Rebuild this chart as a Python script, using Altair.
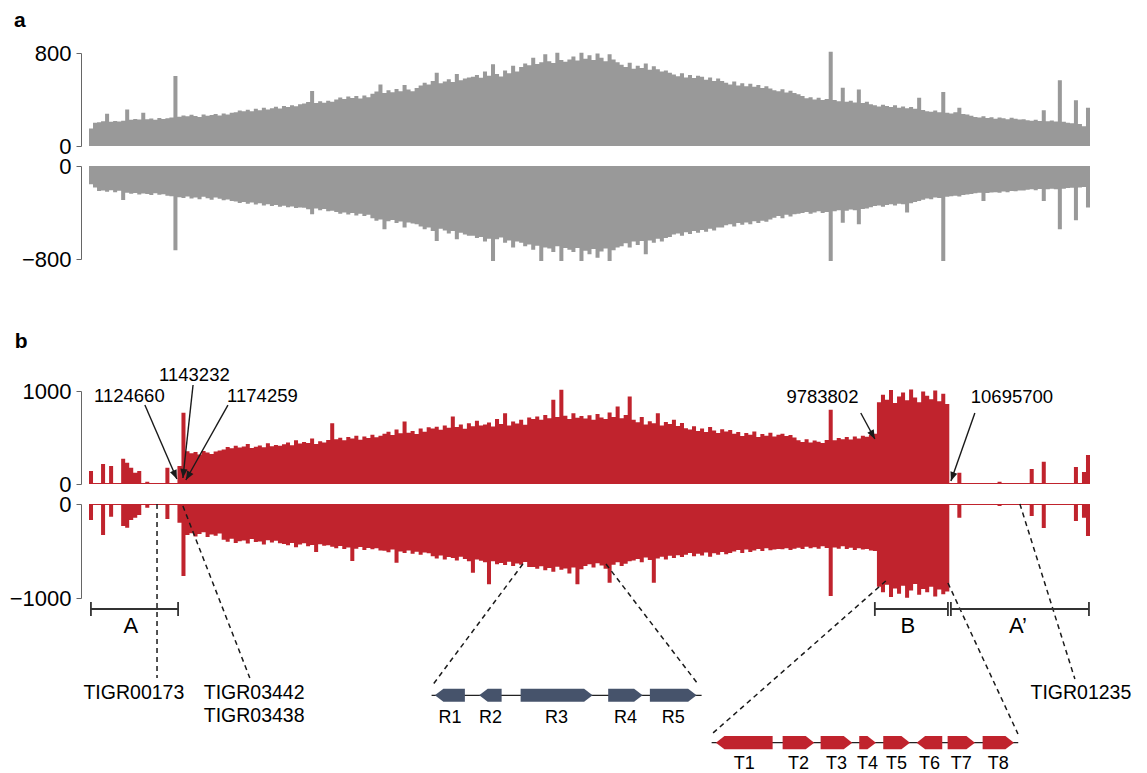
import math
import altair as alt
import pandas as pd

# ---------------- data ----------------
GENOME_MB = 12.45          # genome length shown on the x axis (Mb)
BIN_MB = 0.05              # coverage bin width (Mb)

# panel a: coverage, forward (+) and reverse (-) strand, one value per 50 kb bin
A_POS = [150, 200,
         205, 212, 278, 208, 215, 210, 218,
         315,
         225, 232, 228, 287, 230, 236, 226, 240, 232, 238, 245,
         602,
         252, 262, 255, 268, 258, 250, 272, 260, 266, 275, 262, 280, 270, 285,
         290, 305, 298, 312, 300, 320, 308, 330, 315, 325, 338, 322, 345, 335, 350, 342, 360,
         365, 378, 473, 370, 385, 372, 390, 380,
         400, 418, 405, 425, 412, 430, 408, 435, 420,
         450, 468, 530, 455, 480, 462, 490, 472, 525, 485, 470, 500,
         520, 545, 530, 560, 631, 540, 555, 575, 550, 620, 565, 580, 590,
         595, 610, 588, 640, 605, 703, 620, 598, 650, 625, 690, 640,
         680, 710, 695, 760, 705, 720, 790, 730, 715, 803, 740, 725,
         745, 770, 735, 803, 750, 780, 740, 795, 760, 730, 790, 745, 720,
         700, 680, 717, 665, 690, 670, 710, 655, 685, 660, 640, 650,
         630, 615, 600, 625, 590, 610, 585, 605, 595, 570, 590, 560, 580,
         560, 545, 530, 555, 520, 540, 515, 535, 510, 525, 500, 515,
         495, 480, 470, 488, 460, 475, 455, 445,
         430, 410, 420, 400, 415, 395, 405,
         811,
         395, 385, 502, 380, 390, 375, 487, 370, 380,
         360, 350, 340, 355, 345, 335, 350, 330, 340, 325, 335, 320,
         416, 310, 300, 295, 305, 290, 464, 285, 280, 290, 330, 275, 270,
         260, 250, 245, 255, 240, 248, 235, 245, 238, 230, 242, 235, 228,
         230, 222, 218, 225, 215, 307, 212, 220, 210, 565, 208,
         200, 195, 393, 190, 170, 330]

A_NEG = [-158, -186,
         -215, -210, -222, -208, -225, -212, -292,
         -230,
         -238, -232, -245, -236, -240, -250, -235, -248, -242, -255, -260,
         -725,
         -268, -275, -262, -280, -270, -285, -265, -278, -290, -272, -282, -295, -288, -300,
         -305, -318, -310, -325, -315, -332, -320, -340, -328, -345, -335, -350, -342, -355, -348, -362, -358,
         -360, -372, -416, -365, -380, -370, -390, -385,
         -395, -410, -400, -418, -405, -425, -410, -430, -420,
         -450, -470, -460, -545, -475, -465, -490, -478, -530, -485, -495, -500,
         -520, -545, -530, -560, -645, -540, -555, -580, -560, -630, -575, -590, -600,
         -600, -620, -610, -650, -625, -817, -630, -615, -660, -640, -700, -650,
         -660, -690, -675, -720, -685, -817, -700, -710, -740, -690, -817, -705,
         -720, -740, -705, -817, -730, -760, -715, -790, -735, -710, -817, -725, -700,
         -690, -665, -700, -650, -680, -645, -760, -640, -660, -625, -650, -620,
         -610, -590, -580, -600, -570, -585, -560, -575, -550, -565, -540, -555, -530,
         -530, -510, -500, -520, -490, -505, -485, -500, -475, -490, -470, -480,
         -460, -445, -430, -450, -420, -435, -415, -410,
         -405, -395, -410, -400, -390, -405, -395,
         -817,
         -390, -380, -488, -385, -375, -380, -502, -370, -365,
         -355, -345, -340, -350, -335, -330, -340, -325, -330, -401, -320, -310,
         -300, -290, -280, -285, -270, -275, -817, -265, -260, -255, -262, -250, -245,
         -240, -235, -230, -301, -232, -228, -225, -230, -220, -225, -215, -218, -210,
         -210, -205, -200, -208, -198, -301, -200, -195, -200, -545, -195,
         -190, -188, -467, -185, -180, -358]

# panel b: coverage, forward (+) and reverse (-) strand
B_POS = [140, 10, 10, 215, 10, 194, 10, 10, 272, 229, 175, 122, 140, 10, 25, 10, 10, 10, 10, 175, 10, 10,
         194, 767,
         352, 330, 345, 318, 356, 340, 322, 349, 360,
         372, 398, 385, 410, 392, 404, 430, 388, 401, 415, 396, 439, 405, 420, 412,
         428, 445, 418, 470, 436, 452, 441, 488, 430, 459, 447, 472,
         654, 480, 498, 471, 505, 489, 520, 476, 512, 495, 530, 503, 518,
         540, 562, 528, 585, 546, 672, 552, 570, 538, 596, 561, 610,
         598, 615, 582, 630, 605, 726, 612, 640, 595, 652, 620, 680, 628,
         640, 662, 618, 700, 645, 761, 630, 672, 650, 690, 638, 715,
         700, 725, 690, 742, 708, 905, 720, 1013, 735, 698, 760, 712, 730,
         705, 740, 690, 752, 715, 698, 770, 720, 833, 706, 742, 941,
         690, 665, 720, 640, 675, 652, 761, 630, 668, 645, 690, 625, 655,
         600, 585, 620, 570, 598, 560, 612, 575, 548, 590, 565, 580,
         540, 560, 515, 548, 530, 565, 505, 538, 520, 552, 512, 530,
         540, 515, 528, 500,
         470, 452, 480, 445, 468, 455, 440, 472,
         798,
         470, 495, 482, 505, 478, 512, 490, 520, 508, 530,
         540,
         880, 960, 905, 1010, 870, 940, 985, 900, 1016, 930, 880, 995, 950, 910, 1005, 890, 970, 860,
         12, 12, 122, 12, 12, 12, 12, 12, 12, 12, 12, 12, 25, 12, 12, 12, 12, 12, 12, 12,
         161, 12, 12, 240, 12, 12, 12, 12, 12, 12, 12, 183, 12, 129, 312]

B_NEG = [-170, -10, -10, -330, -10, -135, -10, -10, -234, -252, -170, -145, -117, -10, -39, -10, -10, -10, -10, -160, -10, -10,
         -199, -766,
         -330, -310, -345, -318, -300, -352, -325, -338, -315,
         -380, -402, -370, -415, -395, -388, -420, -372, -405, -398, -430, -385, -410, -392, -418,
         -425, -440, -415, -460, -432, -418, -450, -436, -510, -428, -445, -438,
         -455, -470, -448, -480, -462, -606, -475, -458, -490, -468, -482, -470, -495,
         -498, -512, -485, -624, -505, -520, -495, -530, -508, -540, -515, -525,
         -555, -580, -548, -590, -565, -575, -600, -560, -585, -610, -731, -590, -605,
         -620, -855, -610, -640, -628, -650, -615, -660, -632, -645, -618, -670,
         -670, -690, -662, -705, -680, -720, -668, -700, -685, -740, -675, -855, -695,
         -660, -640, -675, -630, -655, -690, -837, -645, -620, -660, -635, -610,
         -600, -585, -620, -570, -595, -837, -580, -560, -590, -550, -575, -545, -565,
         -540, -520, -555, -530, -548, -515, -560, -525, -540, -510, -535, -520,
         -505, -490, -520, -485, -510, -495, -480, -500, -470, -492, -485, -478,
         -482, -470, -490, -475,
         -465, -480, -455, -470, -460, -475, -450, -468,
         -979,
         -462, -475, -450, -480, -465, -490, -470, -485, -478, -495,
         -500,
         -880, -940, -860, -990, -900, -955, -870, -997, -920, -850, -965, -905, -940, -880, -985, -910, -960, -930,
         -10, -10, -147, -10, -10, -10, -10, -10, -10, -10, -10, -10, -20, -10, -10, -10, -10, -10, -10, -10,
         -128, -10, -10, -255, -10, -10, -10, -10, -10, -10, -10, -181, -10, -147, -340]

# genomic positions marked with arrows (label, label position, arrow start, arrow tip)
POS_LABELS = ["1124660", "1143232", "1174259", "9783802", "10695700"]
POS_LABEL_X = [0.502, 1.311, 2.157, 9.122, 11.479]
POS_LABEL_Y = [946, 1172, 946, 935, 935]
ARROW_X1 = [0.695, 1.294, 1.728, 9.599, 11.018]
ARROW_Y1 = [849, 1065, 849, 763, 763]
ARROW_X2 = [1.093, 1.168, 1.205, 9.774, 10.720]
ARROW_Y2 = [54, 65, 43, 484, 32]

# genome segments A, B, A'
SEG_NAMES = ["A", "B", "A\u2019"]
SEG_START = [0.024, 9.774, 10.720]
SEG_END = [1.108, 10.683, 12.437]
SEG_LABEL_X = [0.521, 10.184, 11.554]

# dashed leader lines
DASH_X1 = [0.846, 1.168, 5.396, 6.430, 9.910, 10.683, 11.578]
DASH_Y1 = [0, -21, -638, -638, -819, -840, 0]
DASH_X2 = [0.846, 2.000, 4.265, 7.573, 7.747, 11.554, 12.262]
DASH_Y2 = [-1851, -1851, -1936, -1915, -2447, -2447, -1862]

# TIGRFAM labels
TIGR_TEXT = ["TIGR00173", "TIGR03442", "TIGR03438", "TIGR01235"]
TIGR_X = [0.558, 2.054, 2.054, 12.337]
TIGR_Y = [-2011, -2011, -2255, -2011]

# gene clusters (local kb coordinates, strand)
R_NAMES = ["R1", "R2", "R3", "R4", "R5"]
R_START = [0.33, 4.76, 8.90, 17.66, 21.83]
R_END = [3.33, 7.00, 16.10, 21.10, 26.50]
R_STRAND = [-1, -1, 1, 1, 1]
R_LEN = 27.0

T_NAMES = ["T1", "T2", "T3", "T4", "T5", "T6", "T7", "T8"]
T_START = [0.43, 7.10, 10.90, 14.76, 17.16, 20.50, 23.60, 27.10]
T_END = [6.10, 10.26, 14.06, 16.43, 19.83, 23.06, 26.33, 30.23]
T_STRAND = [-1, 1, 1, 1, 1, -1, 1, 1]
T_LEN = 30.66

# ---------------- layout / style ----------------
GREY = "#999999"
RED = "#c0232d"
SLATE = "#46536b"
INK = "#1a1a1a"
FONT = "Liberation Sans"

W = 1001
H_A = 93
H_BP = 93
H_BN = 94
GAP = 20
H_SPACER = 92
PX_PER_MB = W / GENOME_MB

SEG_Y = -1117
SEG_TICK = 74
SEG_LABEL_Y = -1298
R_ANCHOR = 4.261
T_ANCHOR = 7.744
MB_PER_KB = 0.12438
HEAD_KB = 0.85
GENE_HALF = 70
R_Y = -2035
T_Y = -2539
R_LABEL_Y = -2277
T_LABEL_Y = -2769
HEAD_SHAPE = "M0,0L0.8,2L-0.8,2Z"

XS = alt.Scale(domain=[0, GENOME_MB], nice=False, zero=False)


def xq(f):
    return alt.X(f"{f}:Q", scale=XS, axis=None)


def make_axis(vals):
    return alt.Axis(values=vals, title=None, grid=False, offset=8, tickSize=5,
                    labelPadding=5, labelFontSize=22, labelFont=FONT,
                    labelColor="#000000", domainColor="#666666", tickColor="#666666",
                    domainWidth=1, tickWidth=1, format="d")


def yq(f, dom, ax):
    return alt.Y(f"{f}:Q", scale=alt.Scale(domain=dom, nice=False, zero=False), axis=ax)


def cov_layer(vals, dom, ax, color):
    xs = [i * BIN_MB for i in range(len(vals))] + [len(vals) * BIN_MB]
    vs = list(vals) + [vals[-1]]
    df = pd.DataFrame({"x": xs, "v": vs, "z": [0] * len(xs)})
    return alt.Chart(df).mark_area(interpolate="step-after", color=color, opacity=1).encode(
        x=xq("x"), y=yq("v", dom, ax), y2=alt.Y2("z:Q"))


def text_layer(df, dom, ax, size, **kw):
    return alt.Chart(df).mark_text(font=FONT, fontSize=size, color="#000000", **kw).encode(
        x=xq("tx"), y=yq("ty", dom, ax), text="t:N")


# ---- panel a ----
DA_P, DA_N = [0, 800], [-800, 0]
AX_AP, AX_AN = make_axis([0, 800]), make_axis([0, -800])
letter_a = text_layer(pd.DataFrame({"tx": [-0.934], "ty": [1024], "t": ["a"]}), DA_P, AX_AP, 21,
                      fontWeight="bold", align="left", baseline="alphabetic")
a_pos = alt.layer(cov_layer(A_POS, DA_P, AX_AP, GREY), letter_a).properties(width=W, height=H_A)
a_neg = alt.layer(cov_layer(A_NEG, DA_N, AX_AN, GREY)).properties(width=W, height=H_A)

# empty spacer between panels a and b
spacer = alt.Chart(pd.DataFrame({"x": [0.0], "y": [0.0]})).mark_point(opacity=0).encode(
    x=xq("x"), y=alt.Y("y:Q", axis=None)).properties(width=W, height=H_SPACER)

# ---- panel b, forward ----
DB_P, DB_N = [0, 1000], [-1000, 0]
AX_BP, AX_BN = make_axis([0, 1000]), make_axis([0, -1000])

angles = []
for x1, y1, x2, y2 in zip(ARROW_X1, ARROW_Y1, ARROW_X2, ARROW_Y2):
    dx = (x2 - x1) * PX_PER_MB
    dy = -(y2 - y1) * H_BP / 1000.0
    angles.append(math.degrees(math.atan2(dx, -dy)) % 360)
arrow_df = pd.DataFrame({"x1": ARROW_X1, "y1": ARROW_Y1, "x2": ARROW_X2, "y2": ARROW_Y2, "ang": angles})

shafts = alt.Chart(arrow_df).mark_rule(color=INK, strokeWidth=1.4).encode(
    x=xq("x1"), x2=alt.X2("x2:Q"), y=yq("y1", DB_P, AX_BP), y2=alt.Y2("y2:Q"))
heads = alt.Chart(arrow_df).mark_point(shape=HEAD_SHAPE, size=81, filled=True, color=INK,
                                       opacity=1, strokeWidth=0).encode(
    x=xq("x2"), y=yq("y2", DB_P, AX_BP), angle=alt.Angle("ang:Q", scale=None))
pos_text = text_layer(pd.DataFrame({"tx": POS_LABEL_X, "ty": POS_LABEL_Y, "t": POS_LABELS}),
                      DB_P, AX_BP, 18.5, align="center", baseline="middle")
letter_b = text_layer(pd.DataFrame({"tx": [-0.922], "ty": [1462], "t": ["b"]}), DB_P, AX_BP, 21,
                      fontWeight="bold", align="left", baseline="alphabetic")
b_pos = alt.layer(cov_layer(B_POS, DB_P, AX_BP, RED), shafts, heads, pos_text, letter_b).properties(
    width=W, height=H_BP)

# ---- panel b, reverse + annotations ----
dash_df = pd.DataFrame({"x1": DASH_X1, "y1": DASH_Y1, "x2": DASH_X2, "y2": DASH_Y2})
dashes = alt.Chart(dash_df).mark_rule(color=INK, strokeWidth=1.5, strokeDash=[5, 4]).encode(
    x=xq("x1"), x2=alt.X2("x2:Q"), y=yq("y1", DB_N, AX_BN), y2=alt.Y2("y2:Q"))

seg_df = pd.DataFrame({"x1": SEG_START, "x2": SEG_END, "y1": [SEG_Y] * 3, "y2": [SEG_Y] * 3})
seg_rules = alt.Chart(seg_df).mark_rule(color="#333333", strokeWidth=1.8).encode(
    x=xq("x1"), x2=alt.X2("x2:Q"), y=yq("y1", DB_N, AX_BN), y2=alt.Y2("y2:Q"))
tick_x = SEG_START + SEG_END
tick_df = pd.DataFrame({"x1": tick_x, "y1": [SEG_Y + SEG_TICK] * len(tick_x),
                        "y2": [SEG_Y - SEG_TICK] * len(tick_x)})
seg_ticks = alt.Chart(tick_df).mark_rule(color="#333333", strokeWidth=1.8).encode(
    x=xq("x1"), y=yq("y1", DB_N, AX_BN), y2=alt.Y2("y2:Q"))
seg_text = text_layer(pd.DataFrame({"tx": SEG_LABEL_X, "ty": [SEG_LABEL_Y] * 3, "t": SEG_NAMES}),
                      DB_N, AX_BN, 22, align="center", baseline="middle")
tigr_text = text_layer(pd.DataFrame({"tx": TIGR_X, "ty": TIGR_Y, "t": TIGR_TEXT}),
                       DB_N, AX_BN, 19.5, align="center", baseline="middle")


def gene_polys(names, starts, ends, strands, anchor, yc):
    rows = []
    for n, s, e, st in zip(names, starts, ends, strands):
        hd = min(HEAD_KB, e - s)
        if st > 0:
            pts = [(s, yc + GENE_HALF, yc - GENE_HALF), (e - hd, yc + GENE_HALF, yc - GENE_HALF), (e, yc, yc)]
        else:
            pts = [(s, yc, yc), (s + hd, yc + GENE_HALF, yc - GENE_HALF), (e, yc + GENE_HALF, yc - GENE_HALF)]
        for kb, t, b in pts:
            rows.append({"gene": n, "gx": anchor + kb * MB_PER_KB, "gt": t, "gb": b})
    return pd.DataFrame(rows)


def cluster_layers(names, starts, ends, strands, length, anchor, yc, ly, color):
    bb = pd.DataFrame({"x1": [anchor], "x2": [anchor + length * MB_PER_KB], "y1": [yc], "y2": [yc]})
    backbone = alt.Chart(bb).mark_rule(color="#222222", strokeWidth=1.3).encode(
        x=xq("x1"), x2=alt.X2("x2:Q"), y=yq("y1", DB_N, AX_BN), y2=alt.Y2("y2:Q"))
    polys = alt.Chart(gene_polys(names, starts, ends, strands, anchor, yc)).mark_area(
        color=color, opacity=1, interpolate="linear").encode(
        x=xq("gx"), y=alt.Y("gt:Q", scale=alt.Scale(domain=DB_N, nice=False, zero=False),
                             axis=AX_BN, stack=None),
        y2=alt.Y2("gb:Q"), detail="gene:N")
    mids = [anchor + (s + e) / 2 * MB_PER_KB for s, e in zip(starts, ends)]
    labels = text_layer(pd.DataFrame({"tx": mids, "ty": [ly] * len(names), "t": names}),
                        DB_N, AX_BN, 18, align="center", baseline="middle")
    return [backbone, polys, labels]


r_layers = cluster_layers(R_NAMES, R_START, R_END, R_STRAND, R_LEN, R_ANCHOR, R_Y, R_LABEL_Y, SLATE)
t_layers = cluster_layers(T_NAMES, T_START, T_END, T_STRAND, T_LEN, T_ANCHOR, T_Y, T_LABEL_Y, RED)

b_neg = alt.layer(cov_layer(B_NEG, DB_N, AX_BN, RED), dashes, seg_rules, seg_ticks, seg_text,
                  tigr_text, *r_layers, *t_layers).properties(width=W, height=H_BN)

chart = alt.vconcat(a_pos, a_neg, spacer, b_pos, b_neg, spacing=GAP, bounds="flush",
                    padding={"left": 1, "top": 1, "right": 5, "bottom": 2},
                    background="white").configure_view(strokeWidth=0)

chart.save("out.html", embed_options={"renderer": "svg", "actions": False})
